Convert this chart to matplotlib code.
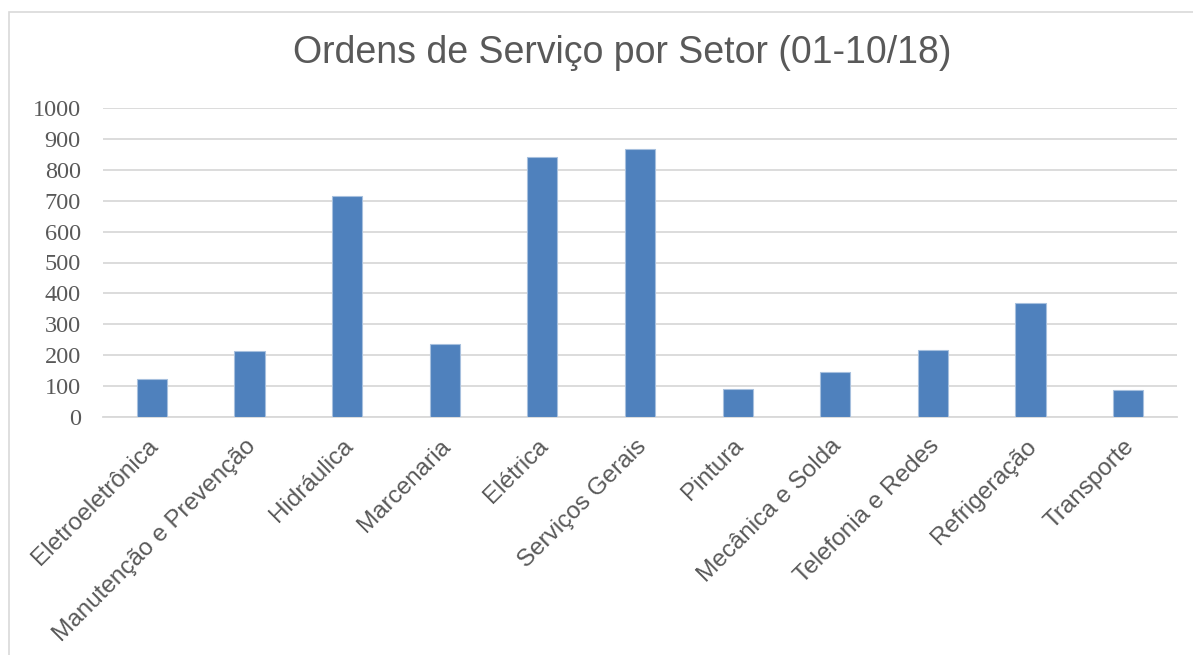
import numpy as np
import matplotlib.pyplot as plt
import matplotlib.transforms as mtrans
from matplotlib.patches import Rectangle

# Ordens de servico por setor
setores = ["Eletroeletrônica", "Manutenção e Prevenção", "Hidráulica", "Marcenaria",
           "Elétrica", "Serviços Gerais", "Pintura", "Mecânica e Solda",
           "Telefonia e Redes", "Refrigeração", "Transporte"]
ordens = [123, 215, 715, 237, 841, 868, 89, 146, 218, 368, 87]
yticks = [0, 100, 200, 300, 400, 500, 600, 700, 800, 900, 1000]

W, H = 1193, 655
fig = plt.figure(figsize=(W / 100, H / 100), dpi=100)
fig.patch.set_facecolor("white")

# chart border (cropped at right / bottom)
fig.patches.append(Rectangle((9 / W, -0.1), 1.2, 1 - 12 / H + 0.1, transform=fig.transFigure,
                             fill=False, edgecolor="#d9d9d9", linewidth=1.2))

ax = fig.add_axes([103 / W, 1 - 417 / H, (1177 - 103) / W, (417 - 108) / H])
x = np.arange(len(setores))
ax.bar(x, ordens, width=0.31, color="#4f81bd", edgecolor="#a7c0de", linewidth=0.8, zorder=3)

ax.set_xlim(-0.5, len(setores) - 0.5)
ax.set_ylim(0, 1000)
ax.set_yticks(yticks)
ax.set_yticklabels([str(v) for v in yticks], family="Liberation Serif", fontsize=17.5, color="#595959")
ax.set_xticks(x)
ax.set_xticklabels(setores, rotation=45, ha="right", rotation_mode="anchor",
                   family="Liberation Sans", fontsize=17.5, color="#595959")
ax.tick_params(axis="both", length=0)
ax.tick_params(axis="y", pad=16)
ax.tick_params(axis="x", pad=8)

# nudge the rotated labels a little down/left
shift = mtrans.ScaledTranslation(-5 / 100, -7 / 100, fig.dpi_scale_trans)
for lbl in ax.get_xticklabels():
    lbl.set_transform(lbl.get_transform() + shift)

ax.grid(axis="y", color="#d9d9d9", linewidth=1.3, zorder=0)
for s in ["top", "right", "left"]:
    ax.spines[s].set_visible(False)
ax.spines["bottom"].set_color("#d9d9d9")
ax.spines["bottom"].set_linewidth(1.3)

fig.text(622 / W, 1 - 53 / H, "Ordens de Serviço por Setor (01-10/18)", ha="center", va="center",
         family="Liberation Sans", fontsize=27, color="#595959")

fig.savefig("out.png", dpi=100)
